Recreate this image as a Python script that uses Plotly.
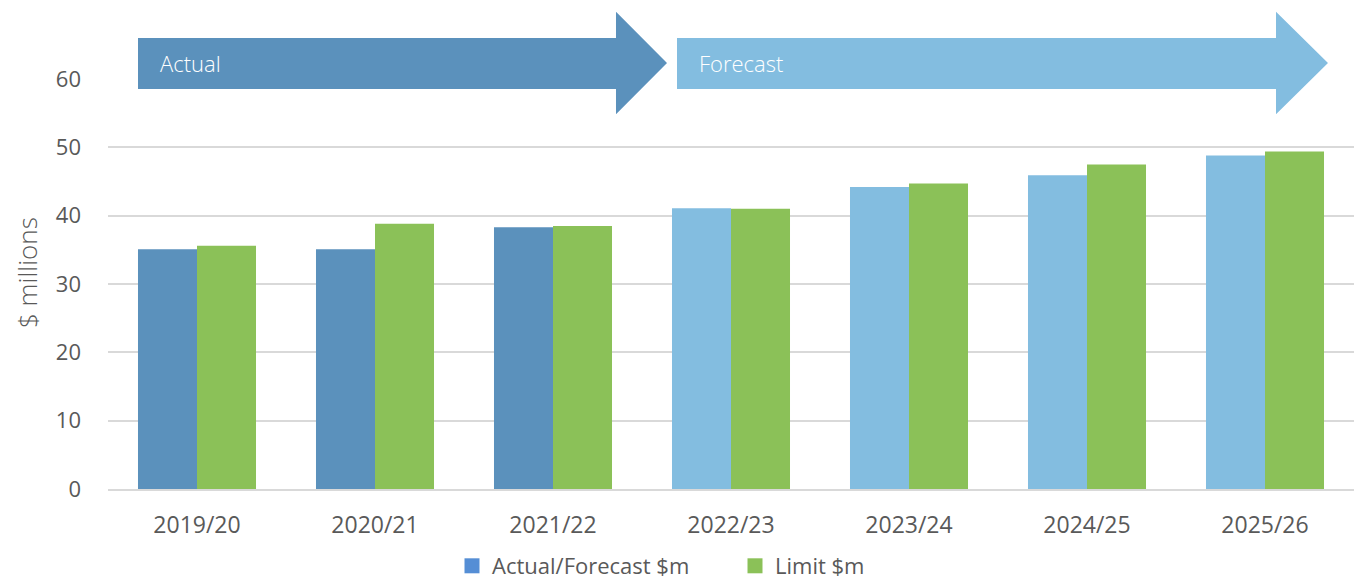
import plotly.graph_objects as go

# ---- data ----
years = ["2019/20", "2020/21", "2021/22", "2022/23", "2023/24", "2024/25", "2025/26"]
actual_forecast = [35.1, 35.1, 38.3, 41.1, 44.2, 45.9, 48.8]
limit = [35.6, 38.8, 38.5, 41.0, 44.7, 47.5, 49.4]
is_actual = [True, True, True, False, False, False, False]
y_ticks = [0, 10, 20, 30, 40, 50, 60]

# ---- style ----
C_ACTUAL = "#5B91BC"
C_FORECAST = "#83BDE0"
C_LIMIT = "#8BC158"
C_LEGEND_AF = "#558ED5"
TXT = "#595959"
GRID = "#D9D9D9"
FONT = "Open Sans"

W, H = 1354, 581
L, R, T, B = 108, 0, 79, 92
PW, PH = W - L - R, H - T - B


def px(x):
    return (x - L) / PW


def py(y):
    return (H - B - y) / PH


fig = go.Figure()
fig.add_trace(go.Bar(
    x=years, y=actual_forecast, name="Actual/Forecast $m", showlegend=False,
    marker=dict(color=[C_ACTUAL if a else C_FORECAST for a in is_actual], line=dict(width=0)),
))
fig.add_trace(go.Bar(
    x=years, y=limit, name="Limit $m", showlegend=False,
    marker=dict(color=C_LIMIT, line=dict(width=0)),
))
# legend entries
for name, col in [("Actual/Forecast $m", C_LEGEND_AF), ("Limit $m", C_LIMIT)]:
    fig.add_trace(go.Scatter(
        x=[None], y=[None], mode="markers", name=name,
        marker=dict(symbol="square", size=15, color=col),
    ))


def arrow_path(x0, x1, xt, yb0, yb1, yh0, yh1, ytip):
    pts = [(x0, yb0), (x1, yb0), (x1, yh0), (xt, ytip), (x1, yh1), (x1, yb1), (x0, yb1)]
    return "M " + " L ".join(f"{px(a):.5f},{py(b):.5f}" for a, b in pts) + " Z"


shapes = [
    dict(type="path", xref="paper", yref="paper", layer="above",
         path=arrow_path(138, 616, 667, 38, 89, 11.7, 114.3, 63),
         fillcolor=C_ACTUAL, line=dict(width=0)),
    dict(type="path", xref="paper", yref="paper", layer="above",
         path=arrow_path(677, 1276, 1328, 38, 89, 11.7, 114.3, 63),
         fillcolor=C_FORECAST, line=dict(width=0)),
]

annotations = [
    dict(text="Actual", xref="paper", yref="paper", x=px(158), y=py(63),
         xanchor="left", yanchor="middle", showarrow=False,
         font=dict(family=FONT, size=22, color="white", weight=300)),
    dict(text="Forecast", xref="paper", yref="paper", x=px(697), y=py(63),
         xanchor="left", yanchor="middle", showarrow=False,
         font=dict(family=FONT, size=22, color="white", weight=300)),
    dict(text="$ millions", xref="paper", yref="paper", x=px(27), y=py(273),
         xanchor="center", yanchor="middle", showarrow=False, textangle=-90,
         font=dict(family=FONT, size=26, color=TXT, weight=300)),
]

fig.update_layout(
    width=W, height=H,
    margin=dict(l=L, r=R, t=T, b=B, pad=0, autoexpand=False),
    paper_bgcolor="white", plot_bgcolor="white",
    barmode="group", bargap=0.337, bargroupgap=0,
    font=dict(family=FONT, color=TXT),
    shapes=shapes, annotations=annotations,
    legend=dict(orientation="h", x=px(452), xanchor="left", y=py(566), yanchor="middle",
                font=dict(family=FONT, size=22, color=TXT),
                entrywidth=238, entrywidthmode="pixels",
                bgcolor="rgba(0,0,0,0)", borderwidth=0),
    xaxis=dict(showgrid=False, showline=True, linecolor=GRID, linewidth=2,
               ticks="", tickfont=dict(family=FONT, size=23, color=TXT),
               ticklabelstandoff=14, fixedrange=True),
    yaxis=dict(range=[0, 60], tickvals=y_ticks, showgrid=True, gridcolor=GRID, gridwidth=2,
               zeroline=False, showline=False, ticks="",
               tickfont=dict(family=FONT, size=22, color=TXT),
               ticklabelstandoff=26, fixedrange=True),
)

fig.write_html("out.html")
